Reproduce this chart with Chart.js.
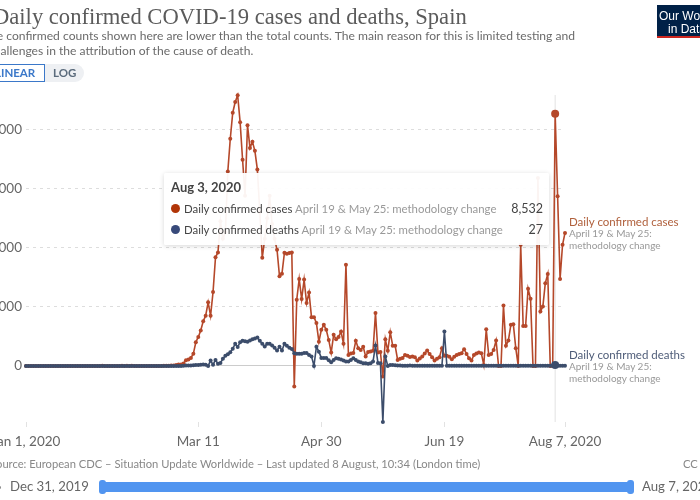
<!DOCTYPE html>
<html><head><meta charset="utf-8">
<style>
html,body{margin:0;padding:0;width:700px;height:500px;overflow:hidden;background:#fff;font-family:Lato,sans-serif}
#wrap{position:absolute;left:0;top:0;width:700px;height:500px;overflow:hidden}
canvas{position:absolute;left:-40px;top:0}
.t{position:absolute;white-space:nowrap;line-height:1}
#tip{position:absolute;left:164px;top:173px;width:385px;height:72px;background:rgba(255,255,255,.94);box-shadow:0 1px 5px rgba(0,0,0,.16);border-radius:2px}
</style></head><body>
<div id="wrap">
<canvas id="c" width="740" height="500" style="width:740px;height:500px"></canvas>
<div class="t" id="title" style="left:-7px;top:4px;font:22.6px 'Liberation Serif',serif;color:#5b5b5b">Daily confirmed COVID-19 cases and deaths, Spain</div>
<div class="t" style="left:-17px;top:30px;font-size:12.1px;color:#6a6a6a">The confirmed counts shown here are lower than the total counts. The main reason for this is limited testing and</div>
<div class="t" style="left:-12px;top:45px;font-size:12.1px;color:#6a6a6a">challenges in the attribution of the cause of death.</div>
<div style="position:absolute;left:-10px;top:64px;width:94px;height:18px;border-radius:9px;background:#eef0f3"></div>
<div style="position:absolute;left:-10px;top:64px;width:53px;height:16px;border:1px solid #3b78c9;background:#fff"></div>
<div class="t" style="left:-5px;top:67px;font-size:11.5px;font-weight:700;color:#3b78c9">LINEAR</div>
<div class="t" style="left:53px;top:67px;font-size:11.5px;font-weight:700;color:#5b6b7c">LOG</div>
<div style="position:absolute;left:657px;top:5px;width:80px;height:33px;background:#002147;border-bottom:2px solid #ce261e;box-sizing:border-box"></div>
<div class="t" style="left:659px;top:9px;font:12px 'Liberation Sans',sans-serif;color:#fff">Our World</div>
<div class="t" style="left:668px;top:22px;font:12px 'Liberation Sans',sans-serif;color:#fff">in Data</div>

<div class="t" style="left:569px;top:216px;font-size:11.5px;color:#b0603c">Daily confirmed cases</div>
<div class="t" style="left:569px;top:228px;font-size:10px;color:#999">April 19 &amp; May 25:</div>
<div class="t" style="left:569px;top:240px;font-size:10px;color:#999">methodology change</div>
<div class="t" style="left:569px;top:349px;font-size:11.5px;color:#4e5c78">Daily confirmed deaths</div>
<div class="t" style="left:569px;top:361px;font-size:10px;color:#999">April 19 &amp; May 25:</div>
<div class="t" style="left:569px;top:373px;font-size:10px;color:#999">methodology change</div>

<div id="tip"></div>
<div class="t" style="left:171px;top:181px;font-size:13px;font-weight:700;color:#444">Aug 3, 2020</div>
<div style="position:absolute;left:171px;top:204px;width:9px;height:9px;border-radius:50%;background:#b13507"></div>
<div class="t" style="left:184px;top:203px;font-size:11.4px;color:#444">Daily confirmed cases <span style="color:#999">April 19 &amp; May 25: methodology change</span></div>
<div class="t" style="right:157px;top:203px;font-size:12.5px;color:#444">8,532</div>
<div style="position:absolute;left:171px;top:225px;width:9px;height:9px;border-radius:50%;background:#384a7a"></div>
<div class="t" style="left:184px;top:224px;font-size:11.4px;color:#444">Daily confirmed deaths <span style="color:#999">April 19 &amp; May 25: methodology change</span></div>
<div class="t" style="right:157px;top:224px;font-size:12.5px;color:#444">27</div>

<div class="t" style="left:-10px;top:458px;font-size:11.2px;color:#888">Source: European CDC – Situation Update Worldwide – Last updated 8 August, 10:34 (London time)</div>
<div class="t" style="left:683px;top:458px;font-size:11.2px;color:#888">CC BY</div>
<div style="position:absolute;left:-2px;top:486px;width:3px;height:3px;border-radius:50%;background:#888"></div>
<div class="t" style="left:10px;top:480px;font-size:13.2px;color:#666">Dec 31, 2019</div>
<div style="position:absolute;left:100px;top:482px;width:532px;height:10px;background:#5195f0;border-radius:1px"></div>
<div style="position:absolute;left:99px;top:480px;width:7px;height:14px;background:#5195f0;border-radius:3px"></div>
<div style="position:absolute;left:627px;top:480px;width:7px;height:14px;background:#5195f0;border-radius:3px"></div>
<div class="t" style="left:642px;top:480px;font-size:13.2px;color:#666">Aug 7, 2020</div>
</div>
<script src="https://cdn.jsdelivr.net/npm/chart.js@4"></script>
<script>
const casesLabel = "Daily confirmed cases";
const deathsLabel = "Daily confirmed deaths";
const tickDays = [0, 70, 120, 170, 219];
const tickLabels = ["Jan 1, 2020", "Mar 11", "Apr 30", "Jun 19", "Aug 7, 2020"];
const yTicks = [0, 2000, 4000, 6000, 8000];
const hoverDay = 215;
const casesValues = [
0,0,0,0,0,0,0,0,0,0,
0,0,0,0,0,0,0,0,0,0,
0,0,0,0,0,0,0,0,0,0,
0,1,0,0,0,0,0,0,0,1,
0,1,0,1,0,0,0,0,0,0,
0,0,0,0,0,0,1,6,8,13,
15,32,44,50,80,190,220,270,410,800,
980,1200,1510,1700,2150,1700,2500,3680,3840,4900,
4300,4520,6580,7690,8570,8930,9160,8250,6980,5760,
8150,7380,7590,7280,6650,5200,3660,4300,5000,5760,
4800,4300,3930,3030,3120,3830,3800,3820,3840,-700,
2240,2940,2260,2920,2130,2480,1650,1650,1450,820,
1220,1390,1220,880,450,1050,900,980,1160,750,
3420,370,420,440,850,600,540,650,320,470,
490,510,1790,450,470,-360,900,510,1140,680,
680,200,240,270,370,340,300,320,290,180,
250,315,420,520,400,290,180,240,295,600,
340,340,305,225,305,370,405,430,565,405,
260,180,370,420,450,430,30,1240,370,405,
540,860,0,0,2040,680,860,1390,1410,600,
0,4100,1350,1350,2610,2270,0,0,6360,1840,
2010,2800,3110,0,0,8532,5740,2940,4100,4500];
const deathsValues = [
0,0,0,0,0,0,0,0,0,0,
0,0,0,0,0,0,0,0,0,0,
0,0,0,0,0,0,0,0,0,0,
0,0,0,0,0,0,0,0,0,0,
0,0,0,0,0,0,0,0,0,0,
0,0,0,0,0,0,0,0,0,0,
0,0,0,0,5,10,10,15,20,30,
30,40,50,35,0,180,40,200,70,100,
240,340,390,460,580,750,640,800,850,830,
820,860,900,930,960,850,750,660,750,750,
690,610,520,650,520,750,680,610,570,430,
410,410,410,440,440,370,320,0,650,480,
270,270,270,190,125,200,255,240,220,180,
150,145,200,260,200,145,120,90,85,70,
85,145,690,100,90,-1900,320,0,30,30,
20,10,10,5,5,5,10,5,5,5,
5,5,5,5,5,5,5,5,5,5,
1160,5,5,5,5,5,5,5,5,5,
5,5,5,5,5,5,5,5,5,5,
5,5,5,5,5,5,5,5,5,5,
5,5,5,5,5,5,5,5,5,5,
5,5,5,5,5,27,5,5,5,5];
const xy = a => a.map((v,i)=>({x:i,y:v}));
const yMin = -1900, yMax = 9170;
const fontBase = {family:"Lato, sans-serif"};
function line(label, values, color){
  return {label, data:xy(values), borderColor:color, backgroundColor:color, borderWidth:1.6,
    pointRadius:c=>c.parsed.x===hoverDay?4:2, pointBorderWidth:0, tension:0, clip:false};
}
new Chart(document.getElementById('c'),{
  type:'line',
  data:{datasets:[
    line(deathsLabel, deathsValues, '#3c4d6b'),
    line(casesLabel, casesValues, '#b5482a'),
    {label:'hover', data:[{x:hoverDay,y:yMin},{x:hoverDay,y:yMax}], borderColor:'#e2e2e2', borderWidth:1, pointRadius:0, clip:false}
  ]},
  options:{
    responsive:false, animation:false, events:[],
    layout:{padding:{left:0,right:135,top:95,bottom:0}},
    plugins:{legend:{display:false},tooltip:{enabled:false}},
    scales:{
      x:{type:'linear',min:0,max:219,
        afterBuildTicks:s=>{s.ticks=tickDays.map(v=>({value:v}));},
        afterFit:s=>{s.height=78;},
        ticks:{autoSkip:false,maxRotation:0,padding:7,color:'#666',font:{...fontBase,size:13.5},
          callback:v=>tickLabels[tickDays.indexOf(v)]},
        grid:{drawOnChartArea:false,tickLength:5,color:'#e2e2e2'},border:{display:false}},
      y:{type:'linear',min:yMin,max:yMax,
        afterBuildTicks:s=>{s.ticks=yTicks.map(v=>({value:v}));},
        afterFit:s=>{s.width=66;},
        ticks:{padding:4,color:'#666',font:{...fontBase,size:13.5},callback:v=>v.toLocaleString('en-US')},
        grid:{drawTicks:false,color:c=>c.tick&&c.tick.value===0?'#ccc':'#ddd',lineWidth:1},
        border:{display:false,dash:c=>c.tick&&c.tick.value===0?[]:[3,4]}}
    }
  }
});
</script>
</body></html>
